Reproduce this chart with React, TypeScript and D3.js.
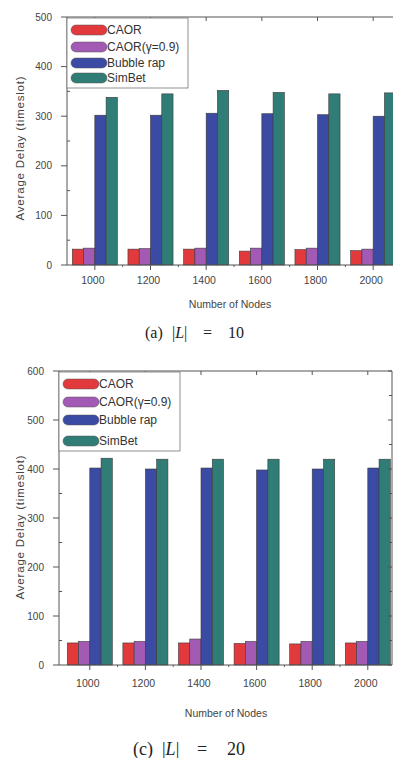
import React from "react";
import * as d3 from "d3";

// categories and series
const nodes = ["1000", "1200", "1400", "1600", "1800", "2000"];
const seriesNames = ["CAOR", "CAOR(γ=0.9)", "Bubble rap", "SimBet"];
const seriesColors = ["#e23a3c", "#a35ab4", "#3b4ba3", "#2f7d76"];

// (a) |L| = 10
const caorL10 = [32, 32, 32, 28, 31, 29];
const caorGammaL10 = [34, 33, 34, 34, 34, 32];
const bubbleL10 = [302, 302, 306, 305, 303, 300];
const simbetL10 = [338, 345, 352, 348, 345, 347];
const ticksL10 = [0, 100, 200, 300, 400, 500];

// (c) |L| = 20
const caorL20 = [45, 45, 45, 44, 43, 45];
const caorGammaL20 = [48, 48, 53, 48, 48, 48];
const bubbleL20 = [402, 400, 402, 398, 400, 402];
const simbetL20 = [422, 420, 420, 420, 420, 420];
const ticksL20 = [0, 100, 200, 300, 400, 500, 600];

const sans = "Arial, 'Liberation Sans', sans-serif";
const serif = "'Liberation Serif', 'DejaVu Serif', serif";

function Panel({ series, ticks, yMax, axisX, bandX0, bandX1, frameRight, yTop, yBottom,
  legendBox, legendRows, titleY, xLabelY, xTitleY, xTitleX, caption, capLetter, capXs, capY, capSize }) {
  const x = d3.scaleBand().domain(nodes).range([bandX0, bandX1]).paddingInner(0.19).paddingOuter(0.095);
  const xs = d3.scaleBand().domain(seriesNames).range([0, x.bandwidth()]);
  const y = d3.scaleLinear().domain([0, yMax]).range([yBottom, yTop]);
  const minor = d3.range(50, yMax, 100);
  const gray = "#555";

  return (
    <g>
      {/* bars */}
      {series.map((vals, si) =>
        vals.map((v, i) => (
          <rect key={`${si}-${i}`} x={x(nodes[i]) + xs(seriesNames[si])} y={y(v)}
            width={xs.bandwidth()} height={y(0) - y(v)}
            fill={seriesColors[si]} stroke="#3a3a3a" strokeWidth={0.6} />
        ))
      )}
      {/* frame */}
      <line x1={axisX} x2={axisX} y1={yTop} y2={yBottom} stroke={gray} strokeWidth={1} />
      <line x1={axisX} x2={frameRight} y1={yBottom} y2={yBottom} stroke={gray} strokeWidth={1} />
      <line x1={axisX} x2={frameRight} y1={yTop} y2={yTop} stroke={gray} strokeWidth={1} />
      <line x1={frameRight} x2={frameRight} y1={yTop} y2={yBottom} stroke={gray} strokeWidth={1} />
      {/* y ticks */}
      {ticks.map(t => (
        <g key={t}>
          <line x1={axisX - 6} x2={axisX} y1={y(t)} y2={y(t)} stroke={gray} />
          <line x1={frameRight} x2={frameRight - 4} y1={y(t)} y2={y(t)} stroke={gray} />
          <text x={axisX - 15} y={y(t)} dy="0.35em" textAnchor="end" fontSize={10}
            fontFamily={sans} fill="#444">{t}</text>
        </g>
      ))}
      {minor.map(t => (
        <g key={`m${t}`}>
          <line x1={axisX} x2={axisX + 3} y1={y(t)} y2={y(t)} stroke={gray} />
          <line x1={frameRight} x2={frameRight - 3} y1={y(t)} y2={y(t)} stroke={gray} />
        </g>
      ))}
      {/* x ticks */}
      {nodes.map(n => {
        const cx = x(n) + x.bandwidth() / 2;
        return (
          <g key={n}>
            <line x1={cx} x2={cx} y1={yBottom} y2={yBottom + 5} stroke={gray} />
            <line x1={cx} x2={cx} y1={yTop} y2={yTop + 4} stroke={gray} />
            <line x1={cx + x.step() / 2} x2={cx + x.step() / 2} y1={yBottom} y2={yBottom + 2} stroke={gray} />
            <text x={cx - 2} y={xLabelY} textAnchor="middle" fontSize={10.5}
              fontFamily={sans} fill="#444">{n}</text>
          </g>
        );
      })}
      {/* axis titles */}
      <text transform={`translate(20,${titleY}) rotate(-90)`} textAnchor="middle" dy="0.35em"
        fontSize={11.5} fontFamily={sans} fill="#444" letterSpacing={0.8}>Average Delay (timeslot)</text>
      <text x={xTitleX} y={xTitleY} textAnchor="middle" fontSize={10.5} fontFamily={sans}
        fill="#444">Number of Nodes</text>
      {/* legend */}
      <rect x={legendBox[0]} y={legendBox[1]} width={legendBox[2]} height={legendBox[3]}
        fill="white" stroke="#777" strokeWidth={0.8} />
      {seriesNames.map((s, i) => (
        <g key={s}>
          <rect x={legendBox[0] + 4} y={legendRows[i] - 5} width={36} height={10} rx={5}
            fill={seriesColors[i]} stroke="#555" strokeWidth={0.5} />
          <text x={legendBox[0] + 40} y={legendRows[i]} dy="0.35em" fontSize={12}
            fontFamily={sans} fill="#333">{s}</text>
        </g>
      ))}
      {/* caption */}
      <g fontSize={capSize} fontFamily={serif} fill="#222">
        <text x={capXs[0]} y={capY}>{`(${capLetter})`}</text>
        <text x={capXs[1]} y={capY}>|<tspan fontStyle="italic">L</tspan>|</text>
        <text x={capXs[2]} y={capY}>=</text>
        <text x={capXs[3]} y={capY}>{caption}</text>
      </g>
    </g>
  );
}

export default function App() {
  return (
    <svg width={393} height={758} style={{ position: "absolute", left: 0, top: 0, background: "white" }}>
      <Panel series={[caorL10, caorGammaL10, bubbleL10, simbetL10]} ticks={ticksL10} yMax={500}
        axisX={67} bandX0={67} bandX1={401} frameRight={401} yTop={17} yBottom={265}
        legendBox={[67, 18, 121, 70]} legendRows={[30, 47, 63, 78]}
        titleY={148} xLabelY={284} xTitleX={230} xTitleY={308}
        caption="10" capLetter="a" capXs={[145, 172, 203, 228]} capY={338} capSize={16} />
      <Panel series={[caorL20, caorGammaL20, bubbleL20, simbetL20]} ticks={ticksL20} yMax={600}
        axisX={59} bandX0={62} bandX1={395.6} frameRight={392} yTop={371} yBottom={665}
        legendBox={[59, 372, 121, 79]} legendRows={[384, 402, 420, 441]}
        titleY={527} xLabelY={687} xTitleX={226} xTitleY={717}
        caption="20" capLetter="c" capXs={[133, 162, 197, 227]} capY={755} capSize={18} />
    </svg>
  );
}
